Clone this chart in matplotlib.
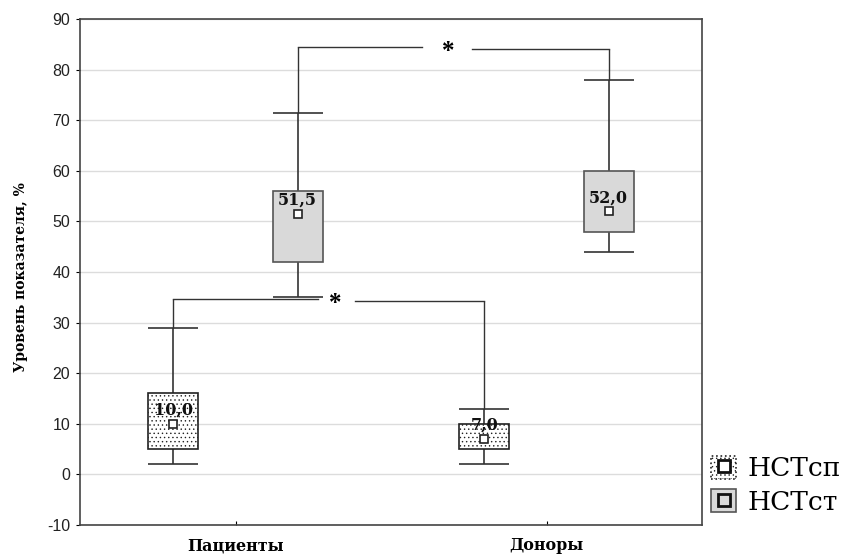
import matplotlib
matplotlib.use("Agg")
import matplotlib.pyplot as plt
from matplotlib.patches import Patch
from matplotlib.lines import Line2D
from matplotlib.legend_handler import HandlerTuple

categories = ["Пациенты", "Доноры"]
series = ["НСТсп", "НСТст"]
# per series: values for [Пациенты, Доноры]
medians = {"НСТсп": [10.0, 7.0], "НСТст": [51.5, 52.0]}
q1 = {"НСТсп": [5, 5], "НСТст": [42, 48]}
q3 = {"НСТсп": [16, 10], "НСТст": [56, 60]}
whislo = {"НСТсп": [2, 2], "НСТст": [35, 44]}
whishi = {"НСТсп": [29, 13], "НСТст": [71.5, 78]}
median_labels = {"НСТсп": ["10,0", "7,0"], "НСТст": ["51,5", "52,0"]}
yticks = [-10, 0, 10, 20, 30, 40, 50, 60, 70, 80, 90]

serif = ["DejaVu Serif"]
sans = ["Liberation Sans", "DejaVu Sans"]

plt.rcParams["hatch.color"] = "#777777"
plt.rcParams["hatch.linewidth"] = 0.5

fig = plt.figure(figsize=(8.5, 5.54), dpi=100)
ax = fig.add_axes([80/850, 29/554, 622/850, 506/554])

offsets = {"НСТсп": -0.2, "НСТст": 0.2}
styles = {
    "НСТсп": dict(facecolor="white", hatch="....", edgecolor="#222222"),
    "НСТст": dict(facecolor="#d9d9d9", hatch=None, edgecolor="#555555"),
}
width = 0.16
cap = 0.08

xs = {}
for s in series:
    xs[s] = []
    for i, c in enumerate(categories):
        x = i + 1 + offsets[s]
        xs[s].append(x)
        ax.vlines(x, whislo[s][i], q1[s][i], color="#333333", lw=1.2, zorder=2)
        ax.vlines(x, q3[s][i], whishi[s][i], color="#333333", lw=1.2, zorder=2)
        ax.hlines([whislo[s][i], whishi[s][i]], x - cap, x + cap, color="#333333", lw=1.2, zorder=2)
        st = styles[s]
        ax.bar(x, q3[s][i] - q1[s][i], bottom=q1[s][i], width=width,
               facecolor=st["facecolor"], hatch=st["hatch"], edgecolor=st["edgecolor"],
               lw=1.2, zorder=3)
        ax.plot(x, medians[s][i], marker="s", ms=6, mfc="white", mec="#222222", mew=1.2, zorder=4)
        ax.text(x, medians[s][i] + 1.0, median_labels[s][i], ha="center", va="bottom",
                fontsize=11.5, fontweight="bold", family=serif, color="#111111", zorder=5)

# significance brackets
lc = "#333333"
# upper: Пациенты НСТст vs Доноры НСТст
y_up = 84.5
xa, xb = xs["НСТст"][0], xs["НСТст"][1]
ax.vlines(xa, whishi["НСТст"][0], y_up, color=lc, lw=1.0)
ax.vlines(xb, whishi["НСТст"][1], y_up - 0.5, color=lc, lw=1.0)
ax.plot([xa, 1.6], [y_up, y_up], color=lc, lw=1.0)
ax.plot([1.76, xb], [y_up - 0.5, y_up - 0.5], color=lc, lw=1.0)
ax.text(1.683, y_up - 1.0, "*", ha="center", va="center", fontsize=18, fontweight="bold",
        family=["Liberation Serif"])
# lower: Пациенты НСТсп vs Доноры НСТсп
y_lo = 34.6
xa, xb = xs["НСТсп"][0], xs["НСТсп"][1]
ax.vlines(xa, whishi["НСТсп"][0], y_lo, color=lc, lw=1.0)
ax.vlines(xb, whishi["НСТсп"][1], y_lo - 0.3, color=lc, lw=1.0)
ax.plot([xa, 1.265], [y_lo, y_lo], color=lc, lw=1.0)
ax.plot([1.385, xb], [y_lo - 0.3, y_lo - 0.3], color=lc, lw=1.0)
ax.text(1.32, y_lo - 0.8, "*", ha="center", va="center", fontsize=18, fontweight="bold",
        family=["Liberation Serif"])

ax.set_xlim(0.5, 2.5)
ax.set_ylim(-10, 90)
ax.set_yticks(yticks)
ax.set_yticklabels([str(t) for t in yticks], family=sans, fontsize=11.5, color="#222222")
ax.set_xticks([1, 2])
ax.set_xticklabels(categories, family=serif, fontsize=11.5, fontweight="bold")
ax.tick_params(axis="x", direction="in", length=3, pad=9)
ax.tick_params(axis="y", direction="out", length=3, pad=4)
ax.grid(axis="y", color="#dcdcdc", lw=1.0)
ax.set_axisbelow(True)
for sp in ax.spines.values():
    sp.set_color("#444444")
    sp.set_linewidth(1.2)
ax.set_ylabel("Уровень показателя, %", family=serif, fontsize=10, fontweight="bold")
ax.yaxis.set_label_coords(-0.083, 0.49)

handles = []
for s in series:
    st = styles[s]
    p = Patch(facecolor=st["facecolor"], hatch=st["hatch"], edgecolor=st["edgecolor"],
              lw=1.2, linestyle=":" if s == "НСТсп" else "-")
    m = Line2D([], [], marker="s", ms=9, mfc="white" if s == "НСТсп" else "#d9d9d9",
               mec="#111111", mew=2.0, ls="none")
    handles.append((p, m))
leg = fig.legend(handles, series, handler_map={tuple: HandlerTuple(ndivide=1)},
                 loc="upper left", bbox_to_anchor=(711/850, 1 - 456/554),
                 frameon=False, prop={"family": serif, "size": 19},
                 handlelength=0.95, handleheight=0.95, handletextpad=0.45, labelspacing=0.3,
                 borderaxespad=0, borderpad=0)

fig.savefig("out.png", dpi=100)
